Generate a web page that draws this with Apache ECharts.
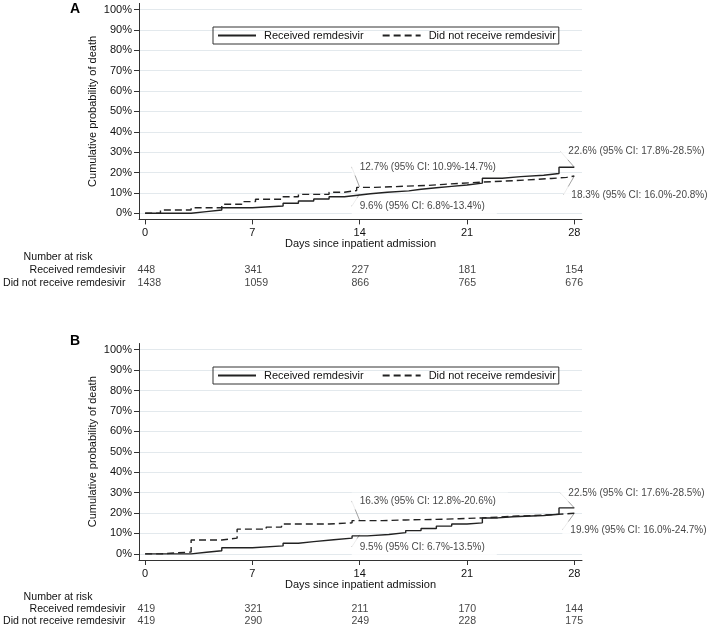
<!DOCTYPE html>
<html>
<head>
<meta charset="utf-8">
<script src="https://cdn.jsdelivr.net/npm/echarts@6/dist/echarts.min.js"></script>
<style>
html,body{margin:0;padding:0;background:#fff;}
#chart{width:708px;height:627px;}
</style>
</head>
<body>
<div id="chart"></div>
<script>
// ---------- data ----------
const seriesNames = ['Received remdesivir', 'Did not receive remdesivir'];
const dayTicks = [0, 7, 14, 21, 28];
const pctTicks = [0, 10, 20, 30, 40, 50, 60, 70, 80, 90, 100];
const riskRows = ['Number at risk', 'Received remdesivir', 'Did not receive remdesivir'];

// Panel A
const aRecDays = [0, 3, 4, 5, 7, 9, 10, 11, 12, 13, 14, 14.7, 15.8, 17.2, 18, 19, 20, 21, 22, 23.3, 24.5, 26, 27, 28];
const aRecVals = [0, 0.8, 1.6, 2.7, 3.6, 4.9, 6.0, 7.0, 8.1, 9.0, 9.6, 10.3, 11.0, 11.8, 12.5, 13.2, 13.9, 14.8, 17.2, 18.0, 18.7, 19.5, 22.6, 22.6];
const aNotDays = [0, 1, 3, 5, 6.3, 7.2, 9, 10, 12, 13, 13.8, 15, 16, 17, 18.5, 19.5, 20.5, 22, 24, 25.5, 26.5, 27.5, 28];
const aNotVals = [0, 1.6, 2.7, 4.4, 5.7, 6.9, 8.1, 9.3, 10.3, 11.2, 12.7, 13.0, 13.3, 13.7, 14.2, 14.7, 15.3, 16.0, 16.6, 17.1, 17.6, 18.3, 18.3];
const aRiskRec = [448, 341, 227, 181, 154];
const aRiskNot = [1438, 1059, 866, 765, 676];
const aNoteDays = [14, 14, 28, 28];
const aNoteVals = [12.7, 9.6, 22.6, 18.3];
const aNoteTexts = ['12.7% (95% CI: 10.9%-14.7%)', '9.6% (95% CI: 6.8%-13.4%)', '22.6% (95% CI: 17.8%-28.5%)', '18.3% (95% CI: 16.0%-20.8%)'];

// Panel B
const bRecDays = [0, 3, 4, 5, 7, 9, 10, 11, 12.3, 13.5, 14.5, 15.9, 17, 18, 19, 20, 21, 22, 23, 24, 26, 27, 28];
const bRecVals = [0, 0.8, 1.5, 3.0, 3.9, 5.2, 6.0, 6.9, 7.7, 8.8, 9.5, 10.4, 11.4, 12.4, 13.6, 14.6, 15.2, 17.6, 18.2, 18.8, 19.4, 22.5, 22.5];
const bNotDays = [0, 1, 2, 3, 5, 6, 7.9, 8.9, 12, 13.5, 15.5, 17, 19, 20.5, 22, 24, 26, 27.3, 28];
const bNotVals = [0, 0.5, 0.9, 6.8, 7.7, 12.1, 13.1, 14.6, 15.2, 16.3, 16.6, 16.9, 17.2, 17.6, 18.4, 19.0, 19.5, 19.9, 19.9];
const bRiskRec = [419, 321, 211, 170, 144];
const bRiskNot = [419, 290, 249, 228, 175];
const bNoteDays = [14, 14, 28, 28];
const bNoteVals = [16.3, 9.5, 22.5, 19.9];
const bNoteTexts = ['16.3% (95% CI: 12.8%-20.6%)', '9.5% (95% CI: 6.7%-13.5%)', '22.5% (95% CI: 17.6%-28.5%)', '19.9% (95% CI: 16.0%-24.7%)'];

// ---------- layout / style ----------
const FONT = "'Liberation Sans', Arial, sans-serif";
const TXT = '#111';
const LINE = '#222';
const AXIS = '#333';
const noteOffsetsA = [[-8, -20.5], [-8, 12.5], [-14, -16], [-11, 19]];
const noteOffsetsB = [[-8, -19.6], [-8, 12.5], [-14, -15], [-12, 16.7]];

const zip = (xs, ys) => xs.map((x, i) => [x, ys[i]]);

function plotAxes(gridIndex) {
  const x = {
    type: 'value', gridIndex, min: -0.4, max: 28.5,
    name: 'Days since inpatient admission', nameLocation: 'middle', nameGap: 19, nameMoveOverlap: false,
    nameTextStyle: { fontFamily: FONT, fontSize: 11, color: TXT },
    axisLine: { show: true, onZero: false, lineStyle: { color: AXIS, width: 1 } },
    axisTick: { show: true, length: 5, customValues: dayTicks, lineStyle: { color: AXIS } },
    axisLabel: { customValues: dayTicks, margin: 8, fontFamily: FONT, fontSize: 11, color: TXT },
    splitLine: { show: false }
  };
  const y = {
    type: 'value', gridIndex, min: -3, max: 103,
    name: 'Cumulative probability of death', nameLocation: 'middle', nameGap: 41, nameRotate: 90,
    nameMoveOverlap: false,
    nameTextStyle: { fontFamily: FONT, fontSize: 11, color: TXT },
    axisLine: { show: true, onZero: false, lineStyle: { color: AXIS, width: 1 } },
    axisTick: { show: true, length: 5, customValues: pctTicks, lineStyle: { color: AXIS } },
    axisLabel: { customValues: pctTicks, margin: 7, fontFamily: FONT, fontSize: 11, color: TXT, formatter: v => v + '%' },
    splitLine: { show: true, lineStyle: { color: '#e3e9ed', width: 1 } }
  };
  return [x, y];
}

function riskAxes(gridIndex) {
  const x = { type: 'value', gridIndex, min: -0.4, max: 28.5, show: false };
  const y = {
    type: 'category', gridIndex, data: riskRows, inverse: true,
    axisLine: { show: false, onZero: false }, axisTick: { show: false }, splitLine: { show: false },
    axisLabel: {
      interval: 0, margin: 15, fontFamily: FONT, fontSize: 10.6, color: TXT,
      formatter: v => v === 'Number at risk' ? '{h|' + v + '}' : v,
      rich: { h: { padding: [0, 33, 0, 0], fontFamily: FONT, fontSize: 10.6, color: TXT } }
    }
  };
  return [x, y];
}

function curveSeries(axisIdx, recD, recV, notD, notV) {
  return [
    {
      name: seriesNames[0], type: 'line', step: 'end', xAxisIndex: axisIdx, yAxisIndex: axisIdx,
      data: zip(recD, recV), symbol: 'none', silent: true, z: 5,
      lineStyle: { color: LINE, width: 1.4, type: 'solid' }, itemStyle: { color: LINE }
    },
    {
      name: seriesNames[1], type: 'line', step: 'end', xAxisIndex: axisIdx, yAxisIndex: axisIdx,
      data: zip(notD, notV), symbol: 'none', silent: true, z: 5,
      lineStyle: { color: LINE, width: 1.4, type: [7, 4] }, itemStyle: { color: LINE }
    }
  ];
}

function noteSeries(axisIdx, days, vals, texts, offsets) {
  return {
    type: 'scatter', xAxisIndex: axisIdx, yAxisIndex: axisIdx, silent: true, z: 2,
    symbolSize: 1, itemStyle: { color: 'rgba(0,0,0,0)' },
    data: days.map((d, i) => ({ value: [d, vals[i]], label: { formatter: texts[i] } })),
    labelLayout: p => ({ dx: offsets[p.dataIndex][0], dy: offsets[p.dataIndex][1] }),
    label: {
      show: true, position: 'inside', align: 'left', verticalAlign: 'middle',
      fontFamily: FONT, fontSize: 10, color: TXT,
      backgroundColor: '#fff', padding: [4, 12, 3, 8]
    },
    labelLine: { show: true, lineStyle: { color: '#8a8a8a', width: 0.8 } }
  };
}

function riskSeries(axisIdx, rec, not) {
  const data = [];
  dayTicks.forEach((d, i) => {
    data.push({ value: [d, riskRows[1], rec[i]] });
    data.push({ value: [d, riskRows[2], not[i]] });
  });
  return {
    type: 'scatter', xAxisIndex: axisIdx, yAxisIndex: axisIdx, silent: true,
    symbolSize: 1, itemStyle: { color: 'rgba(0,0,0,0)' },
    data,
    labelLayout: () => ({ dx: -9 }),
    label: {
      show: true, position: 'inside', align: 'left', verticalAlign: 'middle',
      fontFamily: FONT, fontSize: 10.6, color: TXT,
      formatter: p => String(p.value[2])
    }
  };
}

const [ax0, ay0] = plotAxes(0);
const [ax1, ay1] = riskAxes(1);
const [ax2, ay2] = plotAxes(2);
const [ax3, ay3] = riskAxes(3);

function legendAt(top) {
  return {
    data: seriesNames, left: 213, top, orient: 'horizontal',
    itemWidth: 38, itemHeight: 12, itemGap: 18,
    padding: [3, 3, 3, 4], borderColor: '#333', borderWidth: 1, borderRadius: 0,
    selectedMode: false,
    itemStyle: { opacity: 0 },
    textStyle: { fontFamily: FONT, fontSize: 11, color: TXT, padding: [0, 0, 0, 3] }
  };
}

const option = {
  animation: false,
  backgroundColor: '#fff',
  title: [
    { text: 'A', left: 65, top: -3, textStyle: { fontFamily: FONT, fontSize: 14, fontWeight: 'bold', color: '#000' } },
    { text: 'B', left: 65, top: 329, textStyle: { fontFamily: FONT, fontSize: 14, fontWeight: 'bold', color: '#000' } }
  ],
  legend: [legendAt(27), legendAt(367)],
  grid: [
    { left: 139, top: 3.4, width: 443, height: 216 },
    { left: 139, top: 251, width: 443, height: 38.5 },
    { left: 139, top: 343.5, width: 443, height: 216.5 },
    { left: 139, top: 591, width: 443, height: 37.5 }
  ],
  xAxis: [ax0, ax1, ax2, ax3],
  yAxis: [ay0, ay1, ay2, ay3],
  series: [
    ...curveSeries(0, aRecDays, aRecVals, aNotDays, aNotVals),
    noteSeries(0, aNoteDays, aNoteVals, aNoteTexts, noteOffsetsA),
    riskSeries(1, aRiskRec, aRiskNot),
    ...curveSeries(2, bRecDays, bRecVals, bNotDays, bNotVals),
    noteSeries(2, bNoteDays, bNoteVals, bNoteTexts, noteOffsetsB),
    riskSeries(3, bRiskRec, bRiskNot)
  ]
};

const chart = echarts.init(document.getElementById('chart'), null, { renderer: 'canvas' });
chart.setOption(option);
</script>
</body>
</html>
